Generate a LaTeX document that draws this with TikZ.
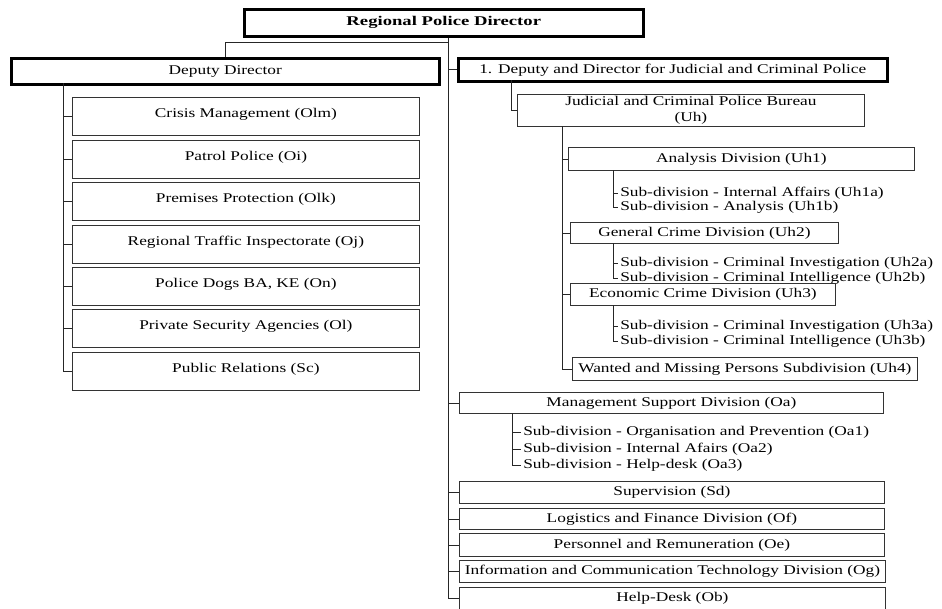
\documentclass[tikz,border=0pt]{standalone}
\usepackage{fontspec}
\setmainfont{Liberation Serif}[FakeStretch=1.3, BoldFeatures={FakeStretch=1.4}]
\begin{document}
\begin{tikzpicture}[x=0.75pt,y=-0.75pt,
  box/.style={draw=black!80, line width=0.6pt, inner sep=0pt, anchor=north west, align=center, font=\fontsize{10pt}{11.25pt}\selectfont},
  headbox/.style={box, draw=black, line width=1.9pt},
  tallbox/.style={box, text height=15pt, text depth=13.5pt},
  subitem/.style={anchor=west, inner xsep=1.5pt, inner ysep=0pt, font=\fontsize{10pt}{11.25pt}\selectfont},
  link/.style={draw=black!85, line width=0.6pt}]
\useasboundingbox[fill=white] (0,0) rectangle (942,608);

% top
\node[headbox, minimum width=299.25pt, minimum height=20.25pt, font=\fontsize{10pt}{11.25pt}\selectfont\bfseries] (rpd) at (243,8) {Regional Police Director};

% deputies
\node[headbox, minimum width=321pt, minimum height=19.5pt] (dd) at (10,57) {Deputy Director};
\node[headbox, minimum width=321.75pt, minimum height=17.25pt] (jd) at (457,57) {1. Deputy and Director for Judicial and Criminal Police};

% left column
\node[tallbox, minimum width=260.25pt] (b1) at (72,97) {Crisis Management (Olm)};
\node[tallbox, minimum width=260.25pt] (b2) at (72,140) {Patrol Police (Oi)};
\node[tallbox, minimum width=260.25pt] (b3) at (72,182) {Premises Protection (Olk)};
\node[tallbox, minimum width=260.25pt] (b4) at (72,225) {Regional Traffic Inspectorate (Oj)};
\node[tallbox, minimum width=260.25pt] (b5) at (72,267) {Police Dogs BA, KE (On)};
\node[tallbox, minimum width=260.25pt] (b6) at (72,309) {Private Security Agencies (Ol)};
\node[tallbox, minimum width=260.25pt] (b7) at (72,352) {Public Relations (Sc)};

% right: bureau
\node[box, minimum width=260.25pt, minimum height=24pt] (uh) at (517,94) {Judicial and Criminal Police Bureau\\[1pt](Uh)};
\node[box, minimum width=259.5pt, minimum height=17.25pt] (uh1) at (568,147) {Analysis Division (Uh1)};
\node[subitem] (uh1a) at (618,193) {Sub-division - Internal Affairs (Uh1a)};
\node[subitem] (uh1b) at (618,207) {Sub-division - Analysis (Uh1b)};
\node[box, minimum width=201pt, minimum height=15.75pt] (uh2) at (570,222) {General Crime Division (Uh2)};
\node[subitem] (uh2a) at (618,263) {Sub-division - Criminal Investigation (Uh2a)};
\node[subitem] (uh2b) at (618,278) {Sub-division - Criminal Intelligence (Uh2b)};
\node[box, minimum width=198.75pt, minimum height=16.5pt] (uh3) at (570,283) {Economic Crime Division (Uh3)};
\node[subitem] (uh3a) at (618,326) {Sub-division - Criminal Investigation (Uh3a)};
\node[subitem] (uh3b) at (618,341) {Sub-division - Criminal Intelligence (Uh3b)};
\node[box, minimum width=258.75pt, minimum height=17.25pt] (uh4) at (572,357) {Wanted and Missing Persons Subdivision (Uh4)};

% right: lower
\node[box, minimum width=318pt, minimum height=15.75pt] (oa) at (459,392) {Management Support Division (Oa)};
\node[subitem] (oa1) at (521,432) {Sub-division - Organisation and Prevention (Oa1)};
\node[subitem] (oa2) at (521,449) {Sub-division - Internal Afairs (Oa2)};
\node[subitem] (oa3) at (521,465) {Sub-division - Help-desk (Oa3)};
\node[box, minimum width=318.75pt, minimum height=16.5pt] (sd) at (459,481) {Supervision (Sd)};
\node[box, minimum width=318.75pt, minimum height=15.75pt] (of) at (459,508) {Logistics and Finance Division (Of)};
\node[box, minimum width=318.75pt, minimum height=17.25pt] (oe) at (459,533) {Personnel and Remuneration (Oe)};
\node[box, minimum width=319.5pt, minimum height=16.5pt] (og) at (459,560) {Information and Communication Technology Division (Og)};
\node[box, minimum width=319.5pt, minimum height=16.5pt] (ob) at (459,587) {Help-Desk (Ob)};

% connector junctions
\coordinate (tr) at (448,42);
\coordinate (lv) at (63,83);
\coordinate (jv) at (511,80);
\coordinate (uv) at (562,126);
\coordinate (s1) at (613,170);
\coordinate (s2) at (613,243);
\coordinate (s3) at (613,305);
\coordinate (s4) at (512,413);

% top level
\draw[link] (rpd.south -| tr) -- (tr) -| (dd.north);
\foreach \n in {jd,oa,sd,of,oe,og,ob} \draw[link] (tr) |- (\n.west);
% left
\foreach \n in {b1,b2,b3,b4,b5,b6,b7} \draw[link] (lv) |- (\n.west);
% judicial
\draw[link] (jv) |- (uh.west);
\foreach \n in {uh1,uh2,uh3,uh4} \draw[link] (uv) |- (\n.west);
\foreach \n in {uh1a,uh1b} \draw[link] (s1) |- (\n.west);
\foreach \n in {uh2a,uh2b} \draw[link] (s2) |- (\n.west);
\foreach \n in {uh3a,uh3b} \draw[link] (s3) |- (\n.west);
\foreach \n in {oa1,oa2,oa3} \draw[link] (s4) |- (\n.west);
\end{tikzpicture}
\end{document}
